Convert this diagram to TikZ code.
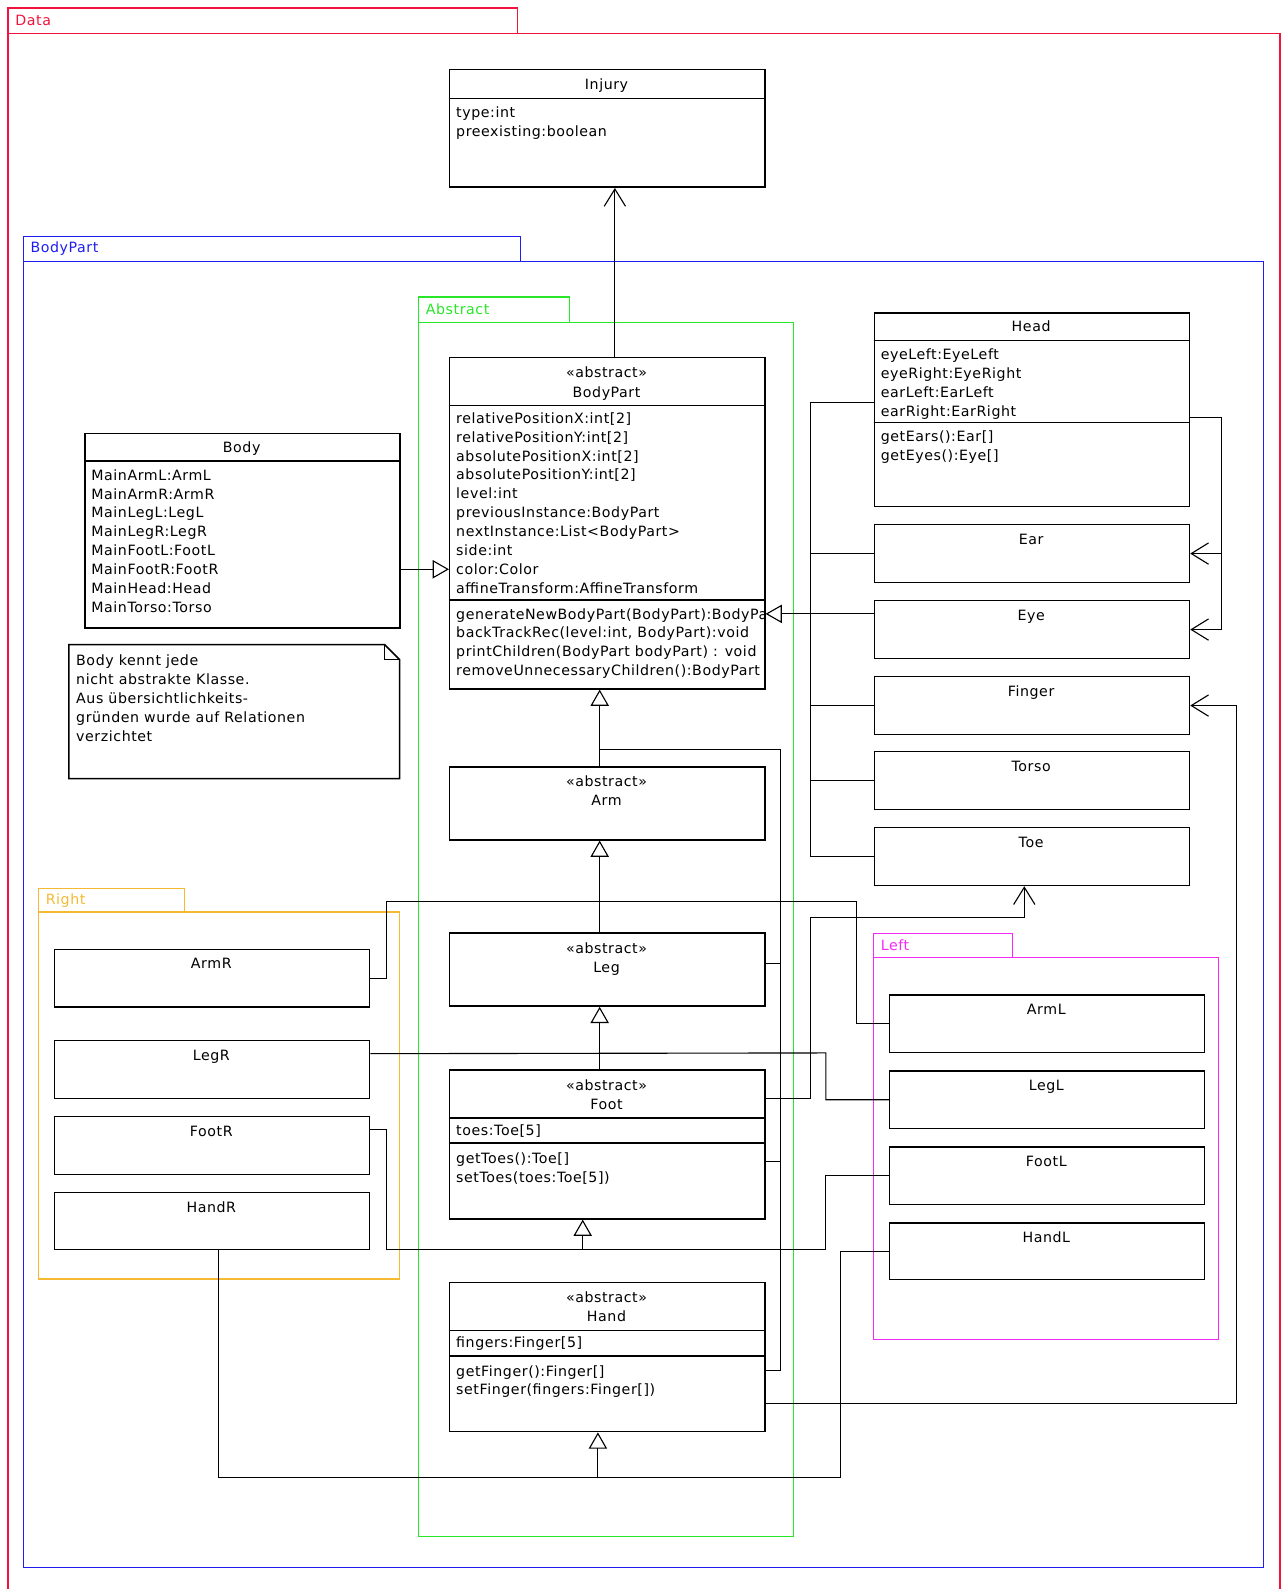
\documentclass[tikz,border=0pt]{standalone}
\usepackage{fontspec}
\setmainfont{DejaVu Sans}[LetterSpace=4]
\usetikzlibrary{arrows.meta}
\definecolor{cRed}{RGB}{240,20,60}
\definecolor{cBlue}{RGB}{30,30,240}
\definecolor{cGreen}{RGB}{40,230,40}
\definecolor{cOrange}{RGB}{245,185,50}
\definecolor{cMagenta}{RGB}{245,40,245}
\begin{document}
\begin{tikzpicture}[x=1pt,y=-1pt,
  every node/.style={inner sep=0pt, font=\fontsize{14}{18.6}\selectfont},
  cls/.style={draw=black, line width=1.5pt, anchor=north west, minimum width=311pt},
  txt/.style={anchor=north west, align=left},
  ttl/.style={anchor=base},
  sep/.style={line width=1.5pt},
  conn/.style={line width=1.1pt},
  gen/.style={conn, -{Triangle[open, length=16pt, width=18pt]}},
  assoc/.style={conn, -{Straight Barb[length=17pt, width=21pt]}},
  pkg/.style={line width=1.2pt},
  pkglabel/.style={anchor=base west},
]
\useasboundingbox (0,0) rectangle (1267,1568);

% ---------- packages ----------
\begin{scope}
\clip (0,0) rectangle (1267,1568);
\draw[pkg, draw=cRed] (8,8) rectangle (511,33);
\draw[pkg, draw=cRed] (8,33) rectangle (1263,1580);
\end{scope}
\node[pkglabel, text=cRed] (lblData) at (15,25) {Data};

\draw[pkg, draw=cBlue] (23,233) rectangle (514,258);
\draw[pkg, draw=cBlue] (23,258) rectangle (1247,1547);
\node[pkglabel, text=cBlue] (lblBodyPart) at (30,249) {BodyPart};

\draw[pkg, draw=cGreen] (413,293) rectangle (562,318);
\draw[pkg, draw=cGreen] (413,318) rectangle (783,1516);
\node[pkglabel, text=cGreen] (lblAbstract) at (420,310) {Abstract};

\draw[pkg, draw=cOrange] (38,877) rectangle (182,900);
\draw[pkg, draw=cOrange] (38,900) rectangle (394,1262);
\node[pkglabel, text=cOrange] (lblRight) at (45,893) {Right};

\draw[pkg, draw=cMagenta] (862,921) rectangle (999,945);
\draw[pkg, draw=cMagenta] (862,945) rectangle (1202,1322);
\node[pkglabel, text=cMagenta] (lblLeft) at (869,938) {Left};

% ---------- Injury ----------
\node[cls, minimum height=116pt] (injury) at (443,68) {};
\draw[sep] (443,97) -- (754,97);
\node[ttl] (injuryT) at (598.5,88) {Injury};
\node[txt] (injuryA) at (450,105) {type:int\\preexisting:boolean};

% ---------- BodyPart ----------
\node[cls, minimum height=327pt] (bodypart) at (443,352) {};
\draw[sep] (443,400) -- (754,400);
\draw[sep] (443,592) -- (754,592);
\node[ttl] (bodypartS) at (598.5,373) {«abstract»};
\node[ttl] (bodypartT) at (598.5,392) {BodyPart};
\node[txt] (bodypartA) at (450,407) {relativePositionX:int[2]\\relativePositionY:int[2]\\absolutePositionX:int[2]\\absolutePositionY:int[2]\\level:int\\previousInstance:BodyPart\\nextInstance:List<BodyPart>\\side:int\\color:Color\\affineTransform:AffineTransform};
\begin{scope}
\clip (444,593) rectangle (753,678);
\node[txt] (bodypartM) at (450,600) {generateNewBodyPart(BodyPart):BodyPart\\backTrackRec(level:int, BodyPart):void\\printChildren(BodyPart bodyPart) : void\\removeUnnecessaryChildren():BodyPart};
\end{scope}

% ---------- Body and note ----------
\node[cls, minimum height=192pt] (body) at (83,427) {};
\draw[sep] (83,455) -- (394,455);
\node[ttl] (bodyT) at (238.5,447) {Body};
\node[txt] (bodyA) at (90,463) {MainArmL:ArmL\\MainArmR:ArmR\\MainLegL:LegL\\MainLegR:LegR\\MainFootL:FootL\\MainFootR:FootR\\MainHead:Head\\MainTorso:Torso};

\node[anchor=north west, minimum width=326pt, minimum height=132pt] (note) at (68,636) {};
\draw[sep] (note.north west) -- ([xshift=-15pt]note.north east) -- ([yshift=-15pt]note.north east) -- (note.south east) -- (note.south west) -- cycle;
\draw[line width=1pt] ([xshift=-15pt]note.north east) -- ([xshift=-15pt,yshift=-15pt]note.north east) -- ([yshift=-15pt]note.north east);
\node[txt] (noteT) at (75,646) {Body kennt jede\\nicht abstrakte Klasse.\\Aus übersichtlichkeits-\\gründen wurde auf Relationen\\verzichtet};

% ---------- abstract column ----------
\node[cls, minimum height=72pt] (arm) at (443,756) {};
\node[ttl] (armS) at (598.5,776) {«abstract»};
\node[ttl] (armT) at (598.5,795) {Arm};

\node[cls, minimum height=72pt] (leg) at (443,920) {};
\node[ttl] (legS) at (598.5,941) {«abstract»};
\node[ttl] (legT) at (598.5,960) {Leg};

\node[cls, minimum height=147pt] (foot) at (443,1055) {};
\draw[sep] (443,1103) -- (754,1103);
\draw[sep] (443,1128) -- (754,1128);
\node[ttl] (footS) at (598.5,1076) {«abstract»};
\node[ttl] (footT) at (598.5,1095) {Foot};
\node[anchor=base west] (footA) at (450,1120) {toes:Toe[5]};
\node[txt] (footM) at (450,1137) {getToes():Toe[]\\setToes(toes:Toe[5])};

\node[cls, minimum height=147pt] (hand) at (443,1265) {};
\draw[sep] (443,1313) -- (754,1313);
\draw[sep] (443,1338) -- (754,1338);
\node[ttl] (handS) at (598.5,1285) {«abstract»};
\node[ttl] (handT) at (598.5,1304) {Hand};
\node[anchor=base west] (handA) at (450,1330) {fingers:Finger[5]};
\node[txt] (handM) at (450,1347) {getFinger():Finger[]\\setFinger(fingers:Finger[])};

% ---------- head and parts ----------
\node[cls, minimum height=191pt] (head) at (862,308) {};
\draw[sep] (862,336) -- (1173,336);
\draw[sep] (862,417) -- (1173,417);
\node[ttl] (headT) at (1017.5,327) {Head};
\node[txt] (headA) at (869,344) {eyeLeft:EyeLeft\\eyeRight:EyeRight\\earLeft:EarLeft\\earRight:EarRight};
\node[txt] (headM) at (869,425) {getEars():Ear[]\\getEyes():Eye[]};

\node[cls, minimum height=57pt] (ear) at (862,517) {};
\node[ttl] (earT) at (1017.5,537) {Ear};
\node[cls, minimum height=57pt] (eye) at (862,592) {};
\node[ttl] (eyeT) at (1017.5,612) {Eye};
\node[cls, minimum height=57pt] (finger) at (862,667) {};
\node[ttl] (fingerT) at (1017.5,687) {Finger};
\node[cls, minimum height=57pt] (torso) at (862,741) {};
\node[ttl] (torsoT) at (1017.5,761) {Torso};
\node[cls, minimum height=57pt] (toe) at (862,816) {};
\node[ttl] (toeT) at (1017.5,836) {Toe};

% ---------- right side ----------
\node[cls, minimum height=57pt] (armR) at (53,936) {};
\node[ttl] (armRT) at (208.5,956) {ArmR};
\node[cls, minimum height=57pt] (legR) at (53,1026) {};
\node[ttl] (legRT) at (208.5,1046) {LegR};
\node[cls, minimum height=57pt] (footR) at (53,1101) {};
\node[ttl] (footRT) at (208.5,1121) {FootR};
\node[cls, minimum height=56pt] (handR) at (53,1176) {};
\node[ttl] (handRT) at (208.5,1196) {HandR};

% ---------- left side ----------
\node[cls, minimum height=57pt] (armL) at (877,981) {};
\node[ttl] (armLT) at (1032.5,1001) {ArmL};
\node[cls, minimum height=57pt] (legL) at (877,1056) {};
\node[ttl] (legLT) at (1032.5,1076) {LegL};
\node[cls, minimum height=57pt] (footL) at (877,1131) {};
\node[ttl] (footLT) at (1032.5,1151) {FootL};
\node[cls, minimum height=56pt] (handL) at (877,1206) {};
\node[ttl] (handLT) at (1032.5,1226) {HandL};

% ---------- connectors ----------
% BodyPart -> Injury
\draw[assoc] ([xshift=7.5pt]bodypart.north) -- ([xshift=7.5pt]injury.south);

% Body -> BodyPart
\coordinate (bodyOut) at ([yshift=-38pt]body.east);
\draw[gen] (bodyOut) -- (bodyOut -| bodypart.west);

% head parts -> BodyPart
\coordinate (hub) at (800,605);
\coordinate (eyeOut) at ([yshift=15.5pt]eye.west);
\draw[gen] (eyeOut) -- (eyeOut -| bodypart.east);
\draw[conn] ([yshift=7.5pt]head.west) -| (hub);
\draw[conn] (ear.west) -| (hub);
\draw[conn] (finger.west) -| (hub);
\draw[conn] (torso.west) -| (hub);
\draw[conn] (toe.west) -| (hub);

% Head -> Ear, Eye
\coordinate (headOut) at ([yshift=-7.5pt]head.east);
\draw[assoc] (headOut) -| ([xshift=31pt]ear.east) -- (ear.east);
\draw[assoc] (headOut) -| ([xshift=31pt]eye.east) -- (eye.east);

% Hand -> Finger
\coordinate (handOut) at ([yshift=-45.5pt]hand.east);
\draw[assoc] (handOut) -| ([xshift=46pt]finger.east) -- (finger.east);

% Foot -> Toe
\coordinate (footOut) at ([yshift=45.5pt]foot.east);
\coordinate (toeJog) at (800,905);
\draw[assoc] (footOut) -| (toeJog) -| ([xshift=-7.5pt]toe.south);

% abstract chain
\draw[gen] ([xshift=-7.5pt]arm.north) -- ([xshift=-7.5pt]bodypart.south);
\coordinate (absJoin) at (591,740);
\coordinate (busTop) at (770,740);
\draw[conn] ([yshift=6pt]leg.east) -| (busTop) -- (absJoin);
\draw[conn] ([yshift=-16.5pt]foot.east) -| (busTop);
\draw[conn] ([yshift=-13.5pt]hand.east) -| (busTop);

% arms -> Arm
\draw[gen] ([xshift=-7.5pt]leg.north) -- ([xshift=-7.5pt]arm.south);
\coordinate (armRJog) at (381,890);
\coordinate (armLJog) at (845,890);
\draw[conn] (armR.east) -| (armRJog) -- (armLJog) |- (armL.west);

% legs -> Leg
\draw[gen] ([xshift=-7.5pt]foot.north) -- ([xshift=-7.5pt]leg.south);
\coordinate (legLJog) at (815,1039);
\draw[conn] ([yshift=15.5pt]legR.east) -- (legLJog) |- (legL.west);

% feet -> Foot
\coordinate (footJoin) at (575,1233);
\draw[gen] (footJoin) -- (footJoin |- foot.south);
\coordinate (footRJog) at (381,1233);
\coordinate (footLJog) at (815,1233);
\draw[conn] ([yshift=15.5pt]footR.east) -| (footRJog) -- (footLJog) |- (footL.west);

% hands -> Hand
\coordinate (handJoin) at (590,1458);
\draw[gen] (handJoin) -- (handJoin |- hand.south);
\coordinate (handRJog) at (216,1458);
\coordinate (handLJog) at (829,1458);
\draw[conn] (handRJog |- handR.south) -- (handRJog) -- (handLJog) |- (handL.west);
\end{tikzpicture}
\end{document}
